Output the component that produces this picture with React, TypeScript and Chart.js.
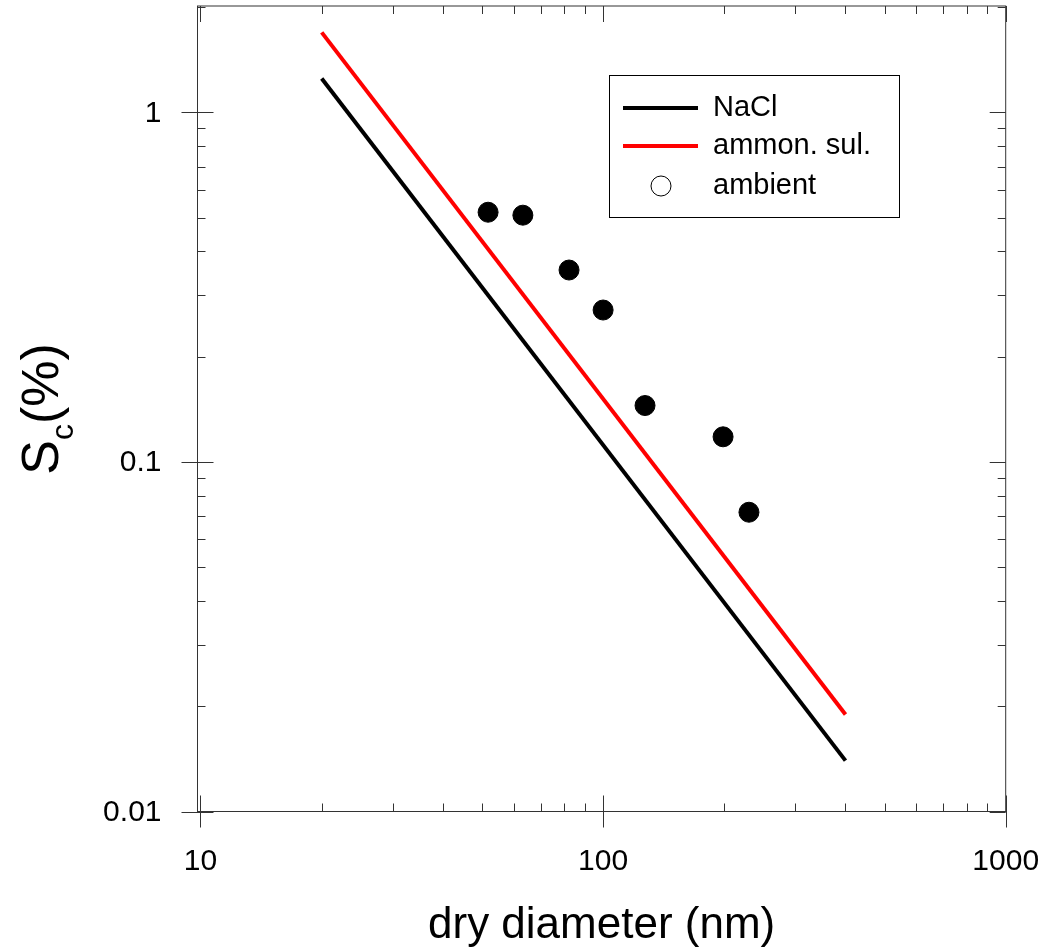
import React, { useEffect, useRef } from "react";
import { Chart, registerables } from "chart.js";

Chart.register(...registerables);

// ---- data ----
const lineDiameters = [20, 400];
const naclSc = [1.25, 0.01398];
const ammonSc = [1.694, 0.01894];
const ambientDiameters = [51.8, 63.2, 82.3, 100, 127.1, 198.6, 230.3];
const ambientSc = [0.518, 0.508, 0.354, 0.272, 0.145, 0.118, 0.0718];
const xTickValues = [10, 100, 1000];
const xTickLabels = ["10", "100", "1000"];
const yTickValues = [0.01, 0.1, 1];
const yTickLabels = ["0.01", "0.1", "1"];
const legendLabels = ["NaCl", "ammon. sul.", "ambient"];
const xTitle = "dry diameter (nm)";

const FONT = "Arial, 'Liberation Sans', Helvetica, sans-serif";

const axesPlugin = {
  id: "customAxes",
  afterDraw(chart: any) {
    const ctx = chart.ctx as CanvasRenderingContext2D;
    const { left, right, top, bottom } = chart.chartArea;
    const xs = chart.scales.x;
    const ys = chart.scales.y;
    ctx.save();
    // frame
    ctx.strokeStyle = "#333";
    ctx.lineWidth = 1;
    ctx.strokeRect(left, top, right - left, bottom - top);

    const MAJ = 16;
    const MIN = 8;
    ctx.beginPath();
    // x ticks
    for (let d = 1; d <= 3; d++) {
      for (let m = 1; m <= 9; m++) {
        const v = m * Math.pow(10, d);
        if (v < xs.min || v > xs.max) continue;
        const px = Math.round(xs.getPixelForValue(v)) + 0.5;
        if (m === 1) {
          ctx.moveTo(px, bottom - MAJ);
          ctx.lineTo(px, bottom + MAJ);
          ctx.moveTo(px, top);
          ctx.lineTo(px, top + MAJ);
        } else {
          ctx.moveTo(px, bottom - MIN);
          ctx.lineTo(px, bottom);
          ctx.moveTo(px, top);
          ctx.lineTo(px, top + MIN);
        }
      }
    }
    // y ticks
    for (let d = -2; d <= 0; d++) {
      for (let m = 1; m <= 9; m++) {
        const v = m * Math.pow(10, d);
        if (v < ys.min || v > ys.max) continue;
        const py = Math.round(ys.getPixelForValue(v)) + 0.5;
        if (m === 1) {
          ctx.moveTo(left - MAJ, py);
          ctx.lineTo(left + MAJ, py);
          ctx.moveTo(right - MAJ, py);
          ctx.lineTo(right, py);
        } else {
          ctx.moveTo(left, py);
          ctx.lineTo(left + MIN, py);
          ctx.moveTo(right - MIN, py);
          ctx.lineTo(right, py);
        }
      }
    }
    ctx.stroke();

    // tick labels
    ctx.fillStyle = "#000";
    ctx.font = `30px ${FONT}`;
    ctx.textAlign = "center";
    ctx.textBaseline = "middle";
    xTickValues.forEach((v, i) => {
      ctx.fillText(xTickLabels[i], xs.getPixelForValue(v), bottom + 50);
    });
    ctx.textAlign = "right";
    yTickValues.forEach((v, i) => {
      ctx.fillText(yTickLabels[i], left - 36, ys.getPixelForValue(v) + 1);
    });

    // x title
    ctx.font = `44px ${FONT}`;
    ctx.textAlign = "center";
    ctx.textBaseline = "alphabetic";
    ctx.fillText(xTitle, (left + right) / 2, 938);

    // y title: S_c(%)
    ctx.save();
    ctx.translate(58, 409);
    ctx.rotate(-Math.PI / 2);
    ctx.textAlign = "left";
    ctx.textBaseline = "alphabetic";
    const bigF = `52px ${FONT}`;
    const subF = `32px ${FONT}`;
    ctx.font = bigF;
    const wS = ctx.measureText("S").width;
    const wP = ctx.measureText("(%)").width;
    ctx.font = subF;
    const wc = ctx.measureText("c").width;
    const total = wS + wc + wP;
    const x0 = -total / 2;
    ctx.font = bigF;
    ctx.fillText("S", x0, 0);
    ctx.font = subF;
    ctx.fillText("c", x0 + wS, 15);
    ctx.font = bigF;
    ctx.fillText("(%)", x0 + wS + wc, 0);
    ctx.restore();

    // legend
    const bx = 609.5, by = 75.5, bw = 290, bh = 142;
    ctx.fillStyle = "#fff";
    ctx.fillRect(bx, by, bw, bh);
    ctx.strokeStyle = "#000";
    ctx.lineWidth = 1;
    ctx.strokeRect(bx, by, bw, bh);
    ctx.lineWidth = 4;
    ctx.strokeStyle = "#000";
    ctx.beginPath();
    ctx.moveTo(623, 108);
    ctx.lineTo(698, 108);
    ctx.stroke();
    ctx.strokeStyle = "#ff0000";
    ctx.beginPath();
    ctx.moveTo(623, 146);
    ctx.lineTo(698, 146);
    ctx.stroke();
    ctx.strokeStyle = "#000";
    ctx.lineWidth = 1;
    ctx.beginPath();
    ctx.arc(661, 186, 10, 0, Math.PI * 2);
    ctx.stroke();
    ctx.fillStyle = "#000";
    ctx.font = `29px ${FONT}`;
    ctx.textAlign = "left";
    ctx.textBaseline = "middle";
    ctx.fillText(legendLabels[0], 713, 108);
    ctx.fillText(legendLabels[1], 713, 146);
    ctx.fillText(legendLabels[2], 713, 186);
    ctx.restore();
  },
};

export default function App() {
  const ref = useRef<HTMLCanvasElement | null>(null);
  useEffect(() => {
    document.body.style.margin = "0";
    const canvas = ref.current!;
    const chart = new Chart(canvas, {
      type: "scatter",
      data: {
        datasets: [
          {
            label: legendLabels[0],
            data: lineDiameters.map((x, i) => ({ x, y: naclSc[i] })),
            showLine: true,
            borderColor: "#000",
            borderWidth: 4,
            pointRadius: 0,
          },
          {
            label: legendLabels[1],
            data: lineDiameters.map((x, i) => ({ x, y: ammonSc[i] })),
            showLine: true,
            borderColor: "#ff0000",
            borderWidth: 4,
            pointRadius: 0,
          },
          {
            label: legendLabels[2],
            data: ambientDiameters.map((x, i) => ({ x, y: ambientSc[i] })),
            showLine: false,
            pointRadius: 10,
            pointBackgroundColor: "#000",
            pointBorderColor: "#000",
            borderColor: "#000",
            backgroundColor: "#000",
          },
        ],
      },
      options: {
        animation: false,
        responsive: false,
        devicePixelRatio: 1,
        layout: {
          autoPadding: false,
          padding: { left: 197.5, top: 6, right: 39.3, bottom: 139.5 },
        },
        plugins: { legend: { display: false }, tooltip: { enabled: false } },
        scales: {
          x: { type: "logarithmic", min: 9.83, max: 1000, display: false },
          y: { type: "logarithmic", min: 0.01, max: 2.015, display: false },
        },
      },
      plugins: [axesPlugin],
    });
    return () => chart.destroy();
  }, []);
  return (
    <div style={{ width: 1045, height: 951, background: "#fff" }}>
      <canvas ref={ref} width={1045} height={951} style={{ display: "block" }} />
    </div>
  );
}
